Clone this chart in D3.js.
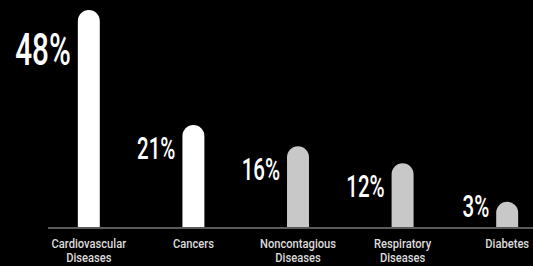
<!DOCTYPE html>
<html>
<head>
<meta charset="utf-8">
<script src="https://cdn.jsdelivr.net/npm/d3@7"></script>
<style>
  body { margin: 0; background: #000; }
  svg { display: block; background: #000; }
</style>
</head>
<body>
<div id="chart"></div>
<script>
// Data
var categories = ["Cardiovascular\nDiseases", "Cancers", "Noncontagious\nDiseases", "Respiratory\nDiseases", "Diabetes"];
var values = [48, 21, 16, 12, 3];
var highlight = [true, true, false, false, false];

var width = 533, height = 266;
var baseY = 227;

var svg = d3.select("div#chart").append("svg")
	.attr("width", width)
	.attr("height", height);

var x = d3.scaleBand()
	.domain(categories)
	.range([36, 560])
	.paddingInner(0.79)
	.paddingOuter(0.4);

var y = d3.scaleLinear()
	.domain([-2.95, 48])
	.range([baseY, 10]);

var bw = x.bandwidth();

// baseline
svg.append("line")
	.attr("x1", 48).attr("x2", width)
	.attr("y1", baseY + 1).attr("y2", baseY + 1)
	.attr("stroke", "#5a5a5a")
	.attr("stroke-width", 2);

// bars with rounded tops
svg.append("g")
	.selectAll("path")
	.data(values)
	.enter().append("path")
	.attr("fill", (d, i) => highlight[i] ? "#ffffff" : "#c8c8c8")
	.attr("d", function(d, i) {
		var x0 = x(categories[i]), r = bw / 2, top = y(d);
		return "M" + x0 + "," + baseY +
			"V" + (top + r) +
			"A" + r + "," + r + " 0 0 1 " + (x0 + bw) + "," + (top + r) +
			"V" + baseY + "Z";
	});

// value labels
svg.append("g")
	.selectAll("text")
	.data(values)
	.enter().append("text")
	.attr("text-anchor", "end")
	.attr("fill", "#fff")
	.attr("font-family", "Roboto, sans-serif")
	.attr("font-weight", 500)
	.attr("font-size", (d, i) => i === 0 ? 45 : 31)
	.attr("transform", function(d, i) {
		var tx = x(categories[i]) - 7;
		var ty = i === 0 ? y(d) + 55 : Math.min(y(d) + 34, baseY - 10);
		return "translate(" + tx + "," + ty + ") scale(0.66,1)";
	})
	.text(d => d + "%");

// category labels
var cat = svg.append("g")
	.selectAll("text")
	.data(categories)
	.enter().append("text")
	.attr("text-anchor", "middle")
	.attr("fill", "#dcdcdc")
	.attr("font-family", "Roboto, sans-serif")
	.attr("font-weight", 500)
	.attr("font-size", 13)
	.attr("transform", d => "translate(" + (x(d) + bw / 2) + ",248) scale(0.86,1)");

cat.selectAll("tspan")
	.data(d => d.split("\n"))
	.enter().append("tspan")
	.attr("x", 0)
	.attr("dy", (d, i) => i === 0 ? 0 : 14)
	.text(d => d);
</script>
</body>
</html>
